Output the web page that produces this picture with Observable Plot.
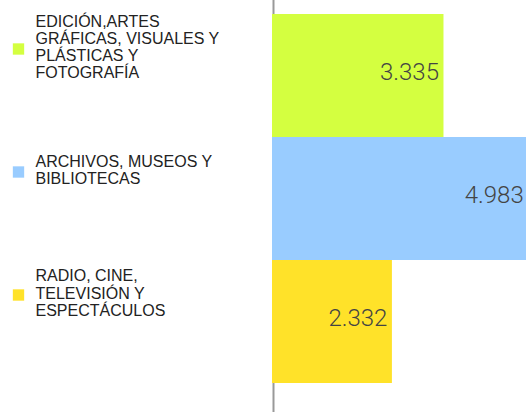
<!DOCTYPE html>
<html>
<head>
<meta charset="utf-8">
<script src="https://cdn.jsdelivr.net/npm/d3@7"></script>
<script src="https://cdn.jsdelivr.net/npm/@observablehq/plot@0.6"></script>
<style>
  html, body { margin: 0; padding: 0; background: #fff; overflow: hidden; }
  #chart { width: 526px; height: 412px; overflow: hidden; }
</style>
</head>
<body>
<div id="chart"></div>
<script>
const categories = [
  "EDICIÓN,ARTES\nGRÁFICAS, VISUALES Y\nPLÁSTICAS Y\nFOTOGRAFÍA",
  "ARCHIVOS, MUSEOS Y\nBIBLIOTECAS",
  "RADIO, CINE,\nTELEVISIÓN Y\nESPECTÁCULOS"
];
const values = [3.335, 4.983, 2.332];
const valueLabels = ["3.335", "4.983", "2.332"];
const colors = ["#d4ff40", "#99ccff", "#ffe229"];

const data = categories.map((c, i) => ({cat: c, value: values[i], label: valueLabels[i], color: colors[i]}));

const chart = Plot.plot({
  width: 526,
  height: 412,
  marginLeft: 272,
  marginRight: 0,
  marginTop: 14,
  marginBottom: 29,
  style: {background: "#fff", overflow: "hidden"},
  x: {domain: [0, 4.94], axis: null},
  y: {domain: categories, axis: null, padding: 0},
  color: {type: "identity"},
  marks: [
    Plot.ruleX([0], {stroke: "#999", strokeWidth: 2, dx: 1, insetTop: -14, insetBottom: -29}),
    Plot.barX(data, {x: "value", y: "cat", fill: "color"}),
    Plot.text(data, {
      x: "value", y: "cat", text: "label", textAnchor: "end", dx: -5, dy: -4,
      fill: "#444", fontSize: 24, fontFamily: "Roboto", fontWeight: 300
    }),
    Plot.dot(data, {
      y: "cat", frameAnchor: "left", dx: -254, dy: -27, symbol: "square", r: 6.4,
      fill: "color", stroke: null
    }),
    Plot.text(data, {
      y: "cat", frameAnchor: "left", dx: -237, dy: -29, text: "cat", textAnchor: "start",
      lineAnchor: "middle", lineHeight: 1.08, fill: "#222", fontSize: 16,
      fontFamily: "Liberation Sans, Arial, sans-serif"
    })
  ]
});
document.getElementById("chart").appendChild(chart);
</script>
</body>
</html>
